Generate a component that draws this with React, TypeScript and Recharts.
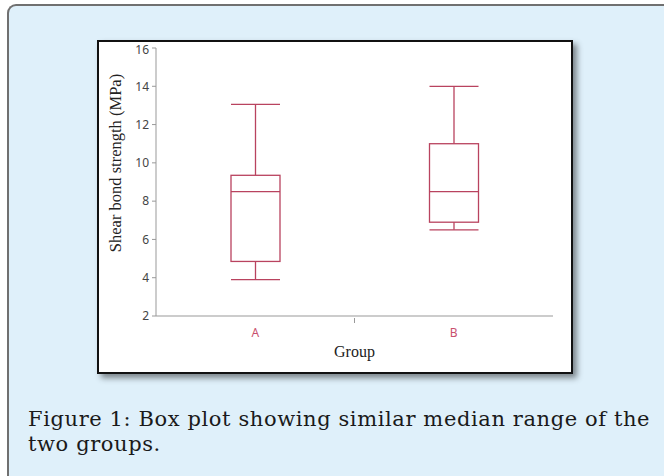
import React from "react";
import { ComposedChart, Bar, XAxis, YAxis } from "recharts";

const groups = ["A", "B"];
const minValues = [3.9, 6.5];
const q1Values = [4.85, 6.9];
const medianValues = [8.5, 8.5];
const q3Values = [9.35, 11.0];
const maxValues = [13.05, 14.0];
const yTicks = [2, 4, 6, 8, 10, 12, 14, 16];

const data = groups.map((g, i) => ({
  group: g,
  min: minValues[i],
  q1: q1Values[i],
  median: medianValues[i],
  q3: q3Values[i],
  max: maxValues[i],
}));

const BOX_COLOR = "#b9435f";

const BoxShape = (props: any) => {
  const { x, y, width, height, payload } = props;
  if (x == null || payload == null) return null;
  const { min, q1, median, q3, max } = payload;
  const span = max - min;
  const py = (v: number) => y + ((max - v) / span) * height;
  const cx = x + width / 2;
  const yMax = py(max);
  const yQ3 = py(q3);
  const yMed = py(median);
  const yQ1 = py(q1);
  const yMin = py(min);
  return (
    <g stroke={BOX_COLOR} strokeWidth={1.3} fill="none">
      <line x1={x} x2={x + width} y1={yMax} y2={yMax} />
      <line x1={cx} x2={cx} y1={yMax} y2={yQ3} />
      <rect x={x} y={yQ3} width={width} height={yQ1 - yQ3} fill="#ffffff" />
      <line x1={x} x2={x + width} y1={yMed} y2={yMed} />
      <line x1={cx} x2={cx} y1={yQ1} y2={yMin} />
      <line x1={x} x2={x + width} y1={yMin} y2={yMin} />
    </g>
  );
};

const XTick = (props: any) => {
  const { x, y, payload, index } = props;
  const half = payload && payload.offset ? payload.offset : 99;
  return (
    <g>
      <text
        x={x}
        y={y + 4}
        dy="0.71em"
        textAnchor="middle"
        fill="#c9506e"
        fontFamily="'Noto Sans', sans-serif"
        fontSize={12}
      >
        {payload.value}
      </text>
      {index === 0 ? (
        <line x1={x + half} x2={x + half} y1={y - 6} y2={y - 1} stroke="#999" strokeWidth={1} />
      ) : null}
    </g>
  );
};

const YLabel = (props: any) => {
  const vb = props.viewBox || { x: 0, y: 0, width: 57, height: 268 };
  const lx = vb.x + 16;
  const ly = vb.y + vb.height / 2 - 19;
  return (
    <text
      x={lx}
      y={ly}
      transform={`rotate(-90, ${lx}, ${ly})`}
      textAnchor="middle"
      dominantBaseline="central"
      fontFamily="'Liberation Serif', serif"
      fontSize={16.5}
      fill="#222"
    >
      Shear bond strength (MPa)
    </text>
  );
};

export default function App() {
  return (
    <div
      style={{
        position: "absolute",
        left: 0,
        top: 0,
        width: 664,
        height: 476,
        overflow: "hidden",
        background: "#ffffff",
      }}
    >
      <div
        style={{
          position: "absolute",
          left: 7,
          top: 4,
          width: 720,
          height: 520,
          background: "#dff0fa",
          borderTop: "2px solid #707070",
          borderLeft: "2px solid #707070",
          borderTopLeftRadius: 9,
        }}
      />
      <div
        style={{
          position: "absolute",
          left: 97,
          top: 40,
          width: 472,
          height: 330,
          border: "2px solid #111",
          background: "#ffffff",
          boxShadow: "4px 4px 6px rgba(0,0,0,0.45)",
        }}
      >
        <ComposedChart
          width={472}
          height={330}
          data={data}
          style={{ overflow: "visible" }}
          margin={{ top: 6, right: 18, left: 0, bottom: 0 }}
        >
          <XAxis
            dataKey="group"
            height={56}
            axisLine={{ stroke: "#999" }}
            tickLine={false}
            tick={<XTick />}
            interval={0}
            label={{
              value: "Group",
              position: "insideBottom",
              offset: 15,
              fontFamily: "'Liberation Serif', serif",
              fontSize: 16,
              fill: "#222",
            }}
          />
          <XAxis
            xAxisId="top"
            orientation="top"
            dataKey="group"
            height={0}
            tick={false}
            tickLine={false}
            axisLine={{ stroke: "#c4c4c4" }}
          />
          <YAxis
            domain={[2, 16]}
            ticks={yTicks}
            type="number"
            width={57}
            allowDataOverflow
            axisLine={{ stroke: "#999" }}
            tickLine={{ stroke: "#999" }}
            tickSize={4}
            tickMargin={3}
            tick={{ fill: "#444", fontSize: 12, fontFamily: "'Noto Sans', sans-serif" }}
            label={<YLabel />}
          />
          <YAxis
            yAxisId="right"
            orientation="right"
            domain={[2, 16]}
            width={0}
            tick={false}
            tickLine={false}
            axisLine={{ stroke: "#c4c4c4" }}
          />
          <Bar
            dataKey={(d: any) => [d.min, d.max]}
            barSize={49}
            shape={<BoxShape />}
            isAnimationActive={false}
          />
        </ComposedChart>
      </div>
      <div
        style={{
          position: "absolute",
          left: 28,
          top: 407,
          fontFamily: "'DejaVu Serif', serif",
          fontSize: 21,
          letterSpacing: "0.6px",
          lineHeight: "25px",
          color: "#1a1a1a",
          whiteSpace: "nowrap",
        }}
      >
        Figure 1: Box plot showing similar median range of the
        <br />
        two groups.
      </div>
    </div>
  );
}
